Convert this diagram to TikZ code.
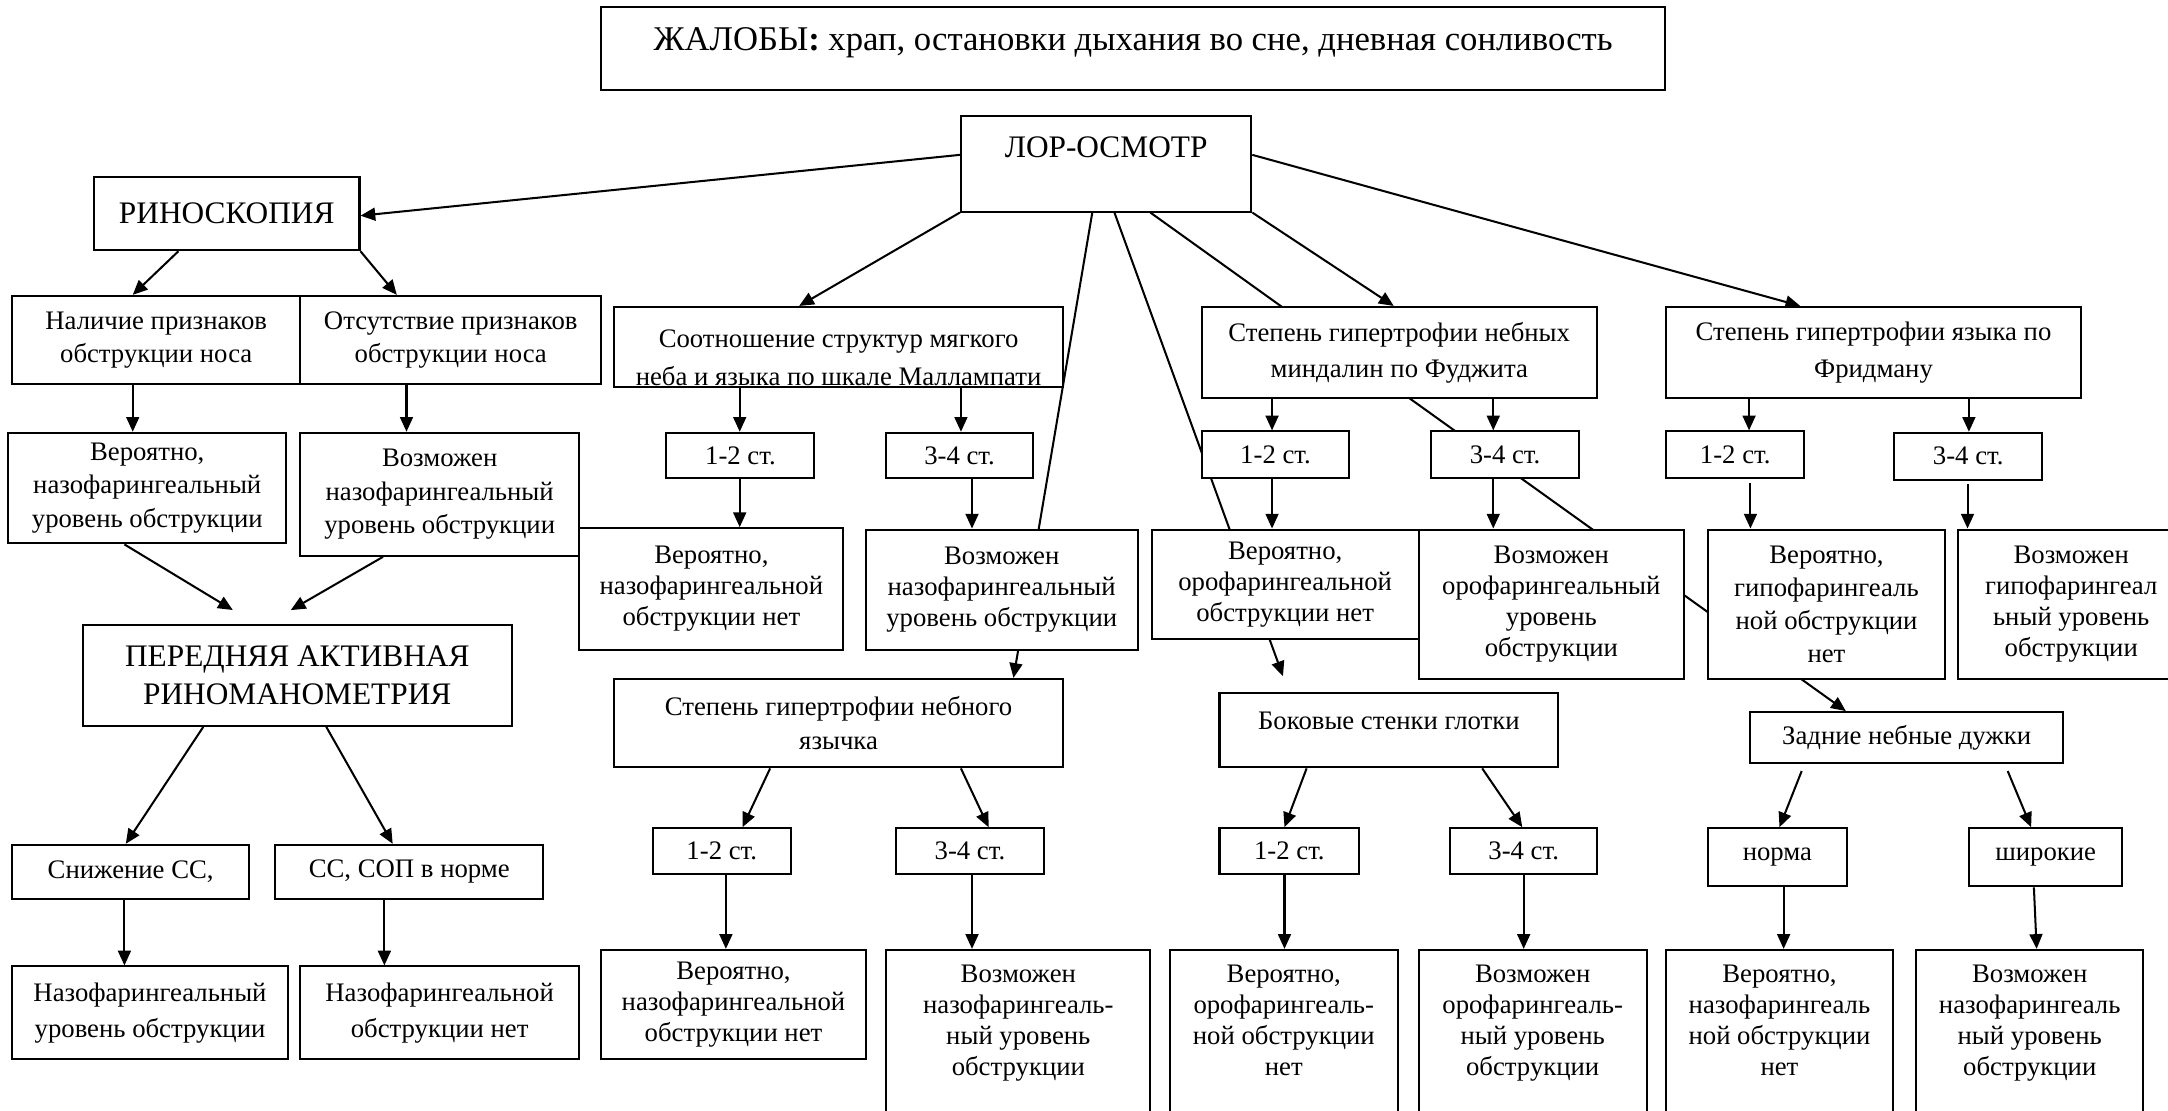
\documentclass[tikz,border=0pt]{standalone}
\usepackage{fontspec}
\setmainfont{Liberation Serif}
\usetikzlibrary{arrows.meta}
\pgfdeclarelayer{bg}
\pgfsetlayers{bg,main}
\newcommand\fsS{\fontsize{14.5}{16.8}\selectfont}
\newcommand\fsL{\fontsize{17}{20.3}\selectfont}
\newcommand\fsT{\fontsize{18.8}{22}\selectfont}
\tikzset{
  bxs/.style={draw, fill=white, line width=1.1pt, inner sep=0pt, align=center, font=\fsS},
  txs/.style={inner sep=0pt, align=center, font=\fsS},
  arr/.style={line width=1.1pt, -{Triangle[length=8pt,width=7pt]}},
  sk/.style={font={\fontsize{14.5}{#1}\selectfont}},
}
% centred text box: [opts]{x1}{y1}{x2}{y2}{name}{text}
\newcommand\bx[7][]{\node[bxs,#1,minimum width={(#4-#2)*0.75pt},minimum height={(#5-#3)*0.75pt}] (#6) at ({(#2+#4)/2},{(#3+#5)/2}) {#7};}
% top-aligned text box: [opts]{x1}{y1}{x2}{y2}{name}{text top y}{text}
\newcommand\bxt[8][]{\node[bxs,minimum width={(#4-#2)*0.75pt},minimum height={(#5-#3)*0.75pt}] (#6) at ({(#2+#4)/2},{(#3+#5)/2}) {};
  \node[txs,#1,anchor=north] (#6t) at ({(#2+#4)/2},#7) {#8};}
\begin{document}
\begin{tikzpicture}[x=0.75pt,y=-0.75pt]
\useasboundingbox (0,0) rectangle (1568,803);
% ---------- top
\bxt[font=\fsT]{435}{5}{1204}{65}{title}{20}{ЖАЛОБЫ\textbf{:} храп, остановки дыхания во сне, дневная сонливость}
\bxt[font=\fsL]{695}{84}{905}{153}{lor}{98.8}{ЛОР-ОСМОТР}
% ---------- left branch
\bx[font=\fsL]{68}{128}{260}{181}{rino}{РИНОСКОПИЯ}
\bx[sk=18pt]{9}{214}{217}{278}{nal}{Наличие признаков\\обструкции носа}
\bx[sk=18pt]{217}{214}{435}{278}{ots}{Отсутствие признаков\\обструкции носа}
\bx[sk=18pt]{6}{313}{207}{393}{ver1}{Вероятно,\\назофарингеальный\\уровень обструкции}
\bx[sk=18pt]{217}{313}{419}{402}{voz1}{Возможен\\назофарингеальный\\уровень обструкции}
\bx[font=\fsL]{60}{452}{370}{525}{pam}{ПЕРЕДНЯЯ АКТИВНАЯ\\РИНОМАНОМЕТРИЯ}
\bx{9}{611}{180}{650}{sn}{Снижение СС,}
\bx{199}{611}{393}{650}{ss}{СС, СОП в норме}
\bx[sk=19.5pt]{9}{699}{208}{766}{nz1}{Назофарингеальный\\уровень обструкции}
\bx[sk=19.5pt]{217}{699}{419}{766}{nz2}{Назофарингеальной\\обструкции нет}
% ---------- Mallampati branch
\bx{444}{222}{769}{280}{mal}{}
\begin{scope}
\clip (mal.south west) rectangle (mal.north east);
\node[txs,anchor=north] (malt) at (606.5,238) {Соотношение структур мягкого\\[4pt]неба и языка по шкале Маллампати};
\end{scope}
\bx{482}{313}{589}{346}{m12}{1-2 ст.}
\bx{641}{313}{747}{346}{m34}{3-4 ст.}
\bx{419}{382}{610}{470}{mv}{Вероятно,\\назофарингеальной\\обструкции нет}
\bx{626}{383}{823}{470}{mp}{Возможен\\назофарингеальный\\уровень обструкции}
\bx[sk=18.75pt]{444}{491}{769}{555}{uv}{Степень гипертрофии небного\\язычка}
\bx{472}{599}{572}{632}{u12}{1-2 ст.}
\bx{648}{599}{755}{632}{u34}{3-4 ст.}
\bx{435}{687}{626}{766}{uvv}{Вероятно,\\назофарингеальной\\обструкции нет}
\bxt{641}{687}{832}{830}{uvp}{697.5}{Возможен\\назофарингеаль-\\ный уровень\\обструкции}
% ---------- Fujita branch
\bx[sk=19.5pt]{869}{222}{1155}{288}{fu}{Степень гипертрофии небных\\миндалин по Фуджита}
\bx{869}{312}{976}{346}{f12}{1-2 ст.}
\bx{1035}{312}{1142}{346}{f34}{3-4 ст.}
\bx{833}{383}{1026}{462}{fv}{Вероятно,\\орофарингеальной\\обструкции нет}
\bx{1026}{383}{1218}{491}{fp}{Возможен\\орофарингеальный\\уровень\\обструкции}
\bxt{882}{501}{1127}{555}{bs}{515}{Боковые стенки глотки}
\bx{882}{599}{983}{632}{b12}{1-2 ст.}
\bx{1049}{599}{1155}{632}{b34}{3-4 ст.}
\bxt{846}{687}{1011}{830}{bv}{697.5}{Вероятно,\\орофарингеаль-\\ной обструкции\\нет}
\bxt{1026}{687}{1191}{830}{bp}{697.5}{Возможен\\орофарингеаль-\\ный уровень\\обструкции}
% ---------- Friedman branch
\bx[sk=20pt]{1205}{222}{1505}{288}{fr}{Степень гипертрофии языка по\\Фридману}
\bx{1205}{312}{1305}{346}{r12}{1-2 ст.}
\bx{1370}{313}{1477}{347}{r34}{3-4 ст.}
\bx[sk=18pt]{1235}{383}{1407}{491}{rv}{Вероятно,\\гипофарингеаль\\ной обструкции\\нет}
\bx{1416}{383}{1580}{491}{rp}{Возможен\\гипофарингеал\\ьный уровень\\обструкции}
\bx{1266}{515}{1492}{552}{zd}{Задние небные дужки}
\bx{1235}{599}{1336}{641}{no}{норма}
\bx{1424}{599}{1535}{641}{sh}{широкие}
\bxt{1205}{687}{1369}{830}{zv}{697.5}{Вероятно,\\назофарингеаль\\ной обструкции\\нет}
\bxt{1386}{687}{1550}{830}{zp}{697.5}{Возможен\\назофарингеаль\\ный уровень\\обструкции}
% ---------- connectors (behind the boxes)
\begin{pgfonlayer}{bg}
\fill[white] (0,0) rectangle (1568,803);
\draw[arr] (lor.west |- 0,112) -- (rino.east |- 0,156);
\draw[arr] (lor.south west) -- (mal.north -| 578,0);
\draw[arr] (lor.south -| 790,0) -- (uv.north -| 733,0);
\draw[arr, shorten >=9pt] (lor.south -| 806,0) -- (bs.north -| 932,0);
\draw[arr] (lor.south -| 832,0) -- (zd.north -| 1335,0);
\draw[arr] (lor.south east) -- (fu.north -| 1008,0);
\draw[arr] (lor.east |- 0,112) -- (fr.north -| 1302,0);
%
\draw[arr] (rino.south -| 129,0) -- (nal.north -| 96,0);
\draw[arr] (rino.south east) -- (ots.north -| 287,0);
\draw[arr] (nal.south -| 96,0) -- (ver1.north -| 96,0);
\draw[arr] (ots.south -| 294,0) -- (voz1.north -| 294,0);
\draw[arr, shorten >=14.6pt] (ver1.south -| 90,0) -- (pam.north -| 185,0);
\draw[arr, shorten >=15pt] (voz1.south -| 277,0) -- (pam.north -| 193,0);
\draw[arr] (pam.south -| 147,0) -- (sn.north -| 91,0);
\draw[arr] (pam.south -| 236,0) -- (ss.north -| 284,0);
\draw[arr] (sn.south -| 90,0) -- (nz1.north -| 90,0);
\draw[arr] (ss.south -| 278,0) -- (nz2.north -| 278,0);
%
\draw[arr] (mal.south -| 535,0) -- (m12.north -| 535,0);
\draw[arr] (mal.south -| 695,0) -- (m34.north -| 695,0);
\draw[arr] (m12.south -| 535,0) -- (mv.north -| 535,0);
\draw[arr] (m34.south -| 703,0) -- (mp.north -| 703,0);
\draw[arr] (uv.south -| 557,0) -- (u12.north -| 537,0);
\draw[arr] (uv.south -| 695,0) -- (u34.north -| 715,0);
\draw[arr] (u12.south -| 525,0) -- (uvv.north -| 525,0);
\draw[arr] (u34.south -| 703,0) -- (uvp.north -| 703,0);
%
\draw[arr] (fu.south -| 920,0) -- (f12.north -| 920,0);
\draw[arr] (fu.south -| 1080,0) -- (f34.north -| 1080,0);
\draw[arr] (f12.south -| 920,0) -- (fv.north -| 920,0);
\draw[arr] (f34.south -| 1080,0) -- (fp.north -| 1080,0);
\draw[arr] (bs.south -| 945,0) -- (b12.north -| 929,0);
\draw[arr] (bs.south -| 1072,0) -- (b34.north -| 1101,0);
\draw[arr] (b12.south -| 929,0) -- (bv.north -| 929,0);
\draw[arr] (b34.south -| 1102,0) -- (bp.north -| 1102,0);
%
\draw[arr] (fr.south -| 1265,0) -- (r12.north -| 1265,0);
\draw[arr] (fr.south -| 1424,0) -- (r34.north -| 1424,0);
\draw[arr, shorten <=2pt] (r12.south -| 1266,0) -- (rv.north -| 1266,0);
\draw[arr, shorten <=2pt] (r34.south -| 1423,0) -- (rp.north -| 1423,0);
\draw[arr, shorten <=4pt] (zd.south -| 1305,0) -- (no.north -| 1287,0);
\draw[arr, shorten <=4pt] (zd.south -| 1450,0) -- (sh.north -| 1469,0);
\draw[arr] (no.south -| 1290,0) -- (zv.north -| 1290,0);
\draw[arr] (sh.south -| 1471,0) -- (zp.north -| 1473,0);
\end{pgfonlayer}
\end{tikzpicture}
\end{document}
